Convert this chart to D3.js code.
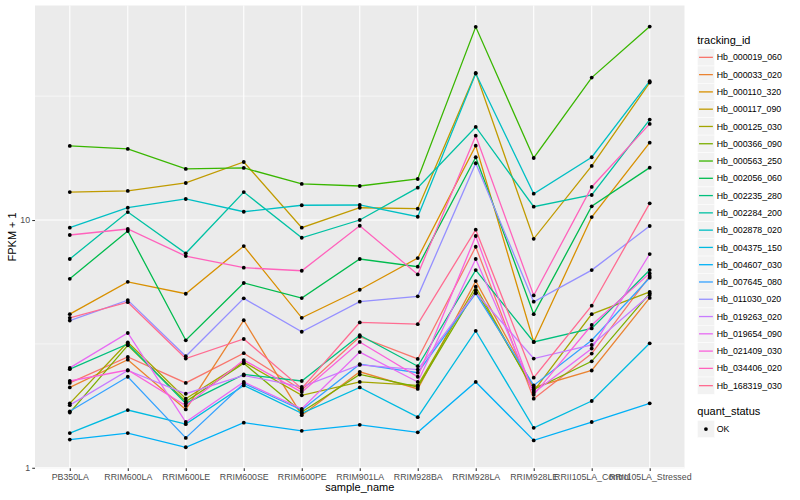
<!DOCTYPE html>
<html><head><meta charset="utf-8">
<script src="https://cdn.jsdelivr.net/npm/d3@7/dist/d3.min.js"></script>
<style>
  body{margin:0;background:#fff;}
  svg{display:block;font-family:"Liberation Sans",Arial,sans-serif;}
</style>
</head><body>
<svg id="chart" width="800" height="500"></svg>
<script>
(function () {
  "use strict";

  /* ---- data (FPKM + 1) ----------------------------------------------- */
  var samples = ["PB350LA","RRIM600LA","RRIM600LE","RRIM600SE","RRIM600PE","RRIM901LA",
                 "RRIM928BA","RRIM928LA","RRIM928LE","RRII105LA_Control","RRII105LA_Stressed"];

  var hb_000019_060 = [2.20, 2.80, 2.20, 2.90, 2.06, 3.38, 2.75, 7.80, 1.90, 2.89, 5.94];
  var hb_000033_020 = [2.11, 2.73, 1.72, 3.94, 1.63, 2.44, 2.08, 5.67, 2.11, 2.47, 4.85];
  var hb_000110_320 = [4.17, 5.63, 5.04, 7.85, 4.03, 5.23, 7.02, 19.96, 3.22, 10.28, 20.53];
  var hb_000117_090 = [12.97, 13.10, 14.11, 17.15, 9.31, 11.21, 11.11, 39.26, 8.40, 16.53, 35.86];
  var hb_000125_030 = [1.82, 3.21, 1.90, 2.67, 1.96, 2.22, 2.15, 5.38, 2.04, 4.17, 5.13];
  var hb_000366_090 = [1.67, 3.12, 1.85, 2.64, 1.68, 2.38, 2.12, 5.21, 2.07, 2.69, 5.06];
  var hb_000563_250 = [19.91, 19.36, 16.08, 16.23, 13.98, 13.72, 14.64, 60.22, 17.80, 37.57, 60.39];
  var hb_002056_060 = [5.79, 9.03, 3.27, 5.57, 4.84, 6.96, 6.48, 17.92, 4.17, 11.36, 16.27];
  var hb_002235_280 = [2.50, 3.16, 1.82, 2.38, 2.24, 3.43, 2.57, 6.28, 3.22, 3.65, 6.28];
  var hb_002284_200 = [6.96, 10.77, 7.34, 12.97, 8.48, 10.00, 13.51, 23.75, 11.32, 12.62, 25.43];
  var hb_002878_020 = [9.31, 11.21, 12.16, 10.80, 11.47, 11.50, 10.31, 39.00, 12.77, 17.92, 36.34];
  var hb_004375_150 = [1.38, 1.71, 1.50, 2.15, 1.66, 2.11, 1.60, 3.57, 1.45, 1.86, 3.18];
  var hb_004607_030 = [1.30, 1.38, 1.21, 1.52, 1.41, 1.49, 1.39, 2.22, 1.29, 1.53, 1.82];
  var hb_007645_080 = [1.69, 2.33, 1.32, 2.19, 1.71, 2.62, 2.42, 5.06, 2.15, 3.27, 5.85];
  var hb_011030_020 = [3.93, 4.75, 2.82, 4.83, 3.54, 4.68, 4.92, 16.95, 4.68, 6.28, 9.46];
  var hb_019263_020 = [1.79, 2.47, 1.99, 2.36, 2.12, 2.60, 2.49, 5.10, 2.76, 3.13, 4.98];
  var hb_019654_090 = [2.53, 3.50, 1.53, 2.22, 1.73, 2.93, 2.22, 6.96, 2.01, 3.03, 7.29];
  var hb_021409_030 = [2.24, 2.48, 1.78, 2.72, 2.02, 3.22, 2.33, 8.62, 1.97, 3.77, 6.09];
  var hb_034406_020 = [8.70, 9.20, 7.15, 6.42, 6.24, 9.48, 6.03, 21.90, 4.96, 13.60, 24.43];
  var hb_168319_030 = [4.03, 4.66, 2.76, 3.31, 2.09, 3.86, 3.80, 9.14, 2.31, 4.51, 11.68];

  var trackingIds = ["Hb_000019_060","Hb_000033_020","Hb_000110_320","Hb_000117_090","Hb_000125_030",
    "Hb_000366_090","Hb_000563_250","Hb_002056_060","Hb_002235_280","Hb_002284_200","Hb_002878_020",
    "Hb_004375_150","Hb_004607_030","Hb_007645_080","Hb_011030_020","Hb_019263_020","Hb_019654_090",
    "Hb_021409_030","Hb_034406_020","Hb_168319_030"];
  var trackValues = [hb_000019_060, hb_000033_020, hb_000110_320, hb_000117_090, hb_000125_030,
    hb_000366_090, hb_000563_250, hb_002056_060, hb_002235_280, hb_002284_200, hb_002878_020,
    hb_004375_150, hb_004607_030, hb_007645_080, hb_011030_020, hb_019263_020, hb_019654_090,
    hb_021409_030, hb_034406_020, hb_168319_030];
  var trackColors = ["#F8766D","#EA8331","#D89000","#C09B00","#A3A500","#7CAE00","#39B600","#00BB4E",
    "#00BF7D","#00C1A3","#00BFC4","#00BAE0","#00B0F6","#35A2FF","#9590FF","#C77CFF","#E76BF3",
    "#FA62DB","#FF62BC","#FF6C91"];
  var quantStatus = ["OK"];

  var yMajor = [1, 10], yMinor = [3.1623, 31.623];

  /* ---- layout ---------------------------------------------------------- */
  var P = {l:35, r:684.5, t:5.5, b:468.3};
  var TXT = "#4D4D4D", TICK = "#333333";
  var svg = d3.select("#chart");

  var x = d3.scalePoint().domain(samples).range([P.l, P.r]).padding(0.6);
  // ggplot style: log extent of the data, expanded 5% each side
  var all = d3.merge(trackValues), ext = d3.extent(all).map(Math.log10), pad = (ext[1]-ext[0])*0.05;
  var y = d3.scaleLog().domain([Math.pow(10, ext[0]-pad), Math.pow(10, ext[1]+pad)]).range([P.b, P.t]);

  svg.append("rect").attr("x",P.l).attr("y",P.t).attr("width",P.r-P.l).attr("height",P.b-P.t)
    .attr("fill","#EBEBEB");

  var grid = svg.append("g");
  yMinor.forEach(function(v){
    grid.append("line").attr("x1",P.l).attr("x2",P.r).attr("y1",y(v)).attr("y2",y(v))
      .attr("stroke","#fff").attr("stroke-width",0.55);
  });
  yMajor.forEach(function(v){
    grid.append("line").attr("x1",P.l).attr("x2",P.r).attr("y1",y(v)).attr("y2",y(v))
      .attr("stroke","#fff").attr("stroke-width",1.1);
  });
  samples.forEach(function(s){
    grid.append("line").attr("x1",x(s)).attr("x2",x(s)).attr("y1",P.t).attr("y2",P.b)
      .attr("stroke","#fff").attr("stroke-width",1.1);
  });

  /* ---- axes ---------------------------------------------------------- */
  var ax = svg.append("g").attr("transform","translate(0,"+P.b+")")
    .call(d3.axisBottom(x).tickSize(2.75).tickPadding(2.5));
  var ay = svg.append("g").attr("transform","translate("+P.l+",0)")
    .call(d3.axisLeft(y).tickValues(yMajor).tickFormat(d3.format("d")).tickSize(2.75).tickPadding(2.2));
  [ax, ay].forEach(function(a){
    a.select(".domain").remove();
    a.selectAll(".tick line").attr("stroke",TICK).attr("stroke-width",1.07);
    a.selectAll(".tick text").attr("fill",TXT).attr("font-size",8.8)
      .attr("font-family","'Liberation Sans',Arial,sans-serif");
  });

  svg.append("text").attr("x",(P.l+P.r)/2).attr("y",490.5).attr("text-anchor","middle")
    .attr("font-size",11).attr("fill","#000").text("sample_name");
  svg.append("text").attr("transform","translate(16,"+((P.t+P.b)/2)+") rotate(-90)")
    .attr("text-anchor","middle").attr("font-size",11).attr("fill","#000").text("FPKM + 1");

  /* ---- lines + points ---------------------------------------------- */
  var line = d3.line().x(function(d,i){ return x(samples[i]); }).y(function(d){ return y(d); });
  var lg = svg.append("g");
  trackValues.forEach(function(vals, k){
    lg.append("path").attr("d", line(vals)).attr("fill","none")
      .attr("stroke", trackColors[k]).attr("stroke-width",1.3);
  });
  var pg = svg.append("g");
  trackValues.forEach(function(vals){
    vals.forEach(function(v,i){
      pg.append("circle").attr("cx",x(samples[i])).attr("cy",y(v)).attr("r",1.9).attr("fill","#000");
    });
  });

  /* ---- legends ------------------------------------------------------- */
  var KX = 697.3, KS = 17.28, KY0 = 48.7;
  var leg = svg.append("g");
  leg.append("text").attr("x",KX).attr("y",43.5).attr("font-size",11).attr("fill","#000").text("tracking_id");
  trackingIds.forEach(function(id, k){
    var ky = KY0 + k*KS;
    leg.append("rect").attr("x",KX).attr("y",ky).attr("width",KS).attr("height",KS)
      .attr("fill","#F2F2F2").attr("stroke","#fff").attr("stroke-width",0.5);
    leg.append("line").attr("x1",KX+1.7).attr("x2",KX+KS-1.7).attr("y1",ky+KS/2).attr("y2",ky+KS/2)
      .attr("stroke",trackColors[k]).attr("stroke-width",1.3);
    leg.append("text").attr("x",KX+KS+2.2).attr("y",ky+KS/2).attr("dy","0.35em")
      .attr("font-size",8.8).attr("fill","#000").text(id);
  });

  var QY = 420.4;
  leg.append("text").attr("x",KX).attr("y",415).attr("font-size",11).attr("fill","#000").text("quant_status");
  quantStatus.forEach(function(q, k){
    var ky = QY + k*KS;
    leg.append("rect").attr("x",KX).attr("y",ky).attr("width",KS).attr("height",KS)
      .attr("fill","#F2F2F2").attr("stroke","#fff").attr("stroke-width",0.5);
    leg.append("circle").attr("cx",KX+KS/2).attr("cy",ky+KS/2).attr("r",1.9).attr("fill","#000");
    leg.append("text").attr("x",KX+KS+2.2).attr("y",ky+KS/2).attr("dy","0.35em")
      .attr("font-size",8.8).attr("fill","#000").text(q);
  });
})();
</script>
</body></html>
